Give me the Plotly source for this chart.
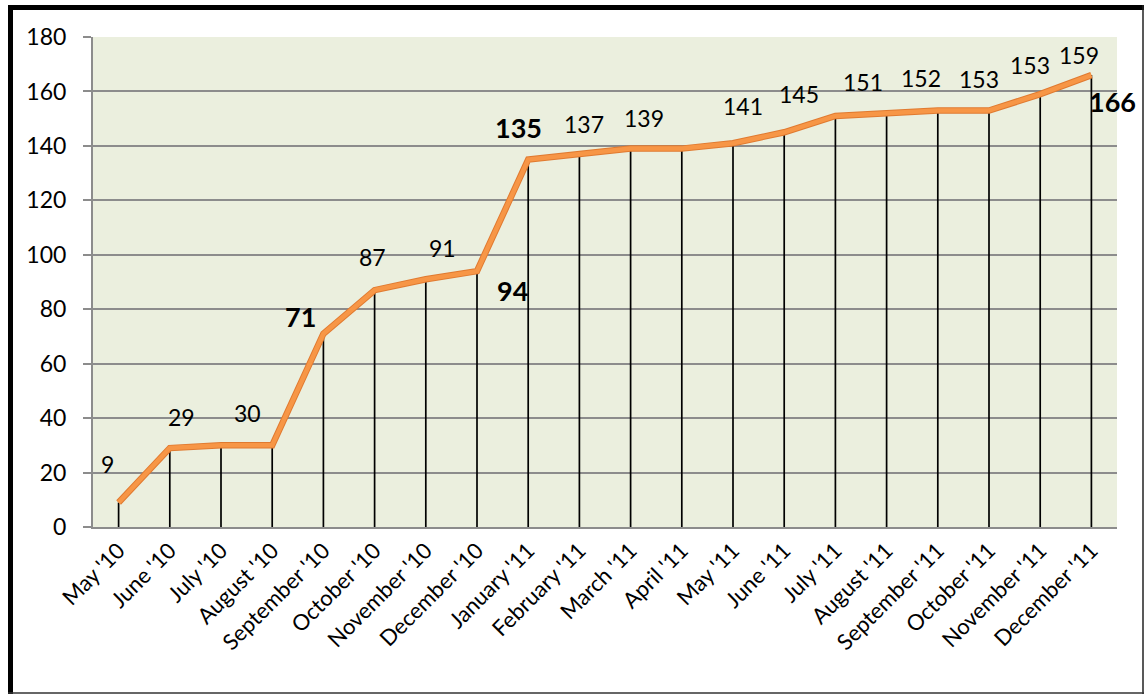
import plotly.graph_objects as go

months = ["May '10", "June '10", "July '10", "August '10", "September '10", "October '10",
          "November '10", "December '10", "January '11", "February '11", "March '11",
          "April '11", "May '11", "June '11", "July '11", "August '11", "September '11",
          "October '11", "November '11", "December '11"]
values = [9, 29, 30, 30, 71, 87, 91, 94, 135, 137, 139, 139, 141, 145, 151, 152, 153, 153, 159, 166]
labels = ["9", "29", "30", None, "71", "87", "91", "94", "135", "137", "139", None,
          "141", "145", "151", "152", "153", "153", "159", "166"]
bold = [False, False, False, False, True, False, False, True, True, False, False, False,
        False, False, False, False, False, False, False, True]
y_ticks = [0, 20, 40, 60, 80, 100, 120, 140, 160, 180]

# label offsets (pixels) relative to each point
dx = [-11, 12, 26, 0, -23, -2, 17, 35, -10, 5, 13, 0, 10, 15, 28, 34, 41, 41, 39, 21]
dy = [39, 31, 32, 0, 17, 33, 31, -19, 32, 30, 31, 0, 37, 38, 34, 35, 32, 46, 39, -26]

FONT = "Lato"

fig = go.Figure()
# drop lines
fig.add_trace(go.Scatter(
    x=months, y=values, mode="markers", marker=dict(size=0.1, color="rgba(0,0,0,0)"),
    error_y=dict(type="data", symmetric=False, array=[0] * len(values), arrayminus=values,
                 color="black", thickness=1.7, width=0),
    hoverinfo="skip", showlegend=False))
# line outline
fig.add_trace(go.Scatter(x=months, y=values, mode="lines",
                         line=dict(color="#E07A30", width=6.5), showlegend=False, hoverinfo="skip"))
fig.add_trace(go.Scatter(x=months, y=values, mode="lines",
                         line=dict(color="#F79646", width=4.5), showlegend=False))

annotations = []
for m, v, t, b, sx, sy in zip(months, values, labels, bold, dx, dy):
    if t is None:
        continue
    annotations.append(dict(
        x=m, y=v, xref="x", yref="y", text=f"<b>{t}</b>" if b else t, showarrow=False,
        xshift=sx, yshift=sy,
        font=dict(family=FONT, size=27 if b else 23, color="black")))

L, R, T, B = 93, 28, 37, 168
W, H = 1145, 695
pw, ph = W - L - R, H - T - B


def px(x):
    return (x - L) / pw


def py(y):
    return (H - B - y) / ph


shapes = [
    dict(type="rect", xref="paper", yref="paper", x0=px(8), x1=px(13), y0=py(694), y1=py(5),
         fillcolor="black", line=dict(width=0), layer="above"),
    dict(type="rect", xref="paper", yref="paper", x0=px(8), x1=px(1144), y0=py(10), y1=py(5),
         fillcolor="black", line=dict(width=0), layer="above"),
    dict(type="line", xref="paper", yref="paper", x0=px(1143), x1=px(1143), y0=py(694), y1=py(5),
         line=dict(color="#222222", width=1.5), layer="above"),
    dict(type="line", xref="paper", yref="paper", x0=px(8), x1=px(1144), y0=py(693), y1=py(693),
         line=dict(color="#333333", width=1.5), layer="above"),
]

fig.update_layout(
    width=W, height=H,
    margin=dict(l=L, r=R, t=T, b=B, autoexpand=False),
    paper_bgcolor="white",
    plot_bgcolor="#EBEFDE",
    font=dict(family=FONT, size=22, color="black"),
    annotations=annotations,
    shapes=shapes,
    xaxis=dict(
        type="category", range=[-0.5, len(months) - 0.5], tickangle=-45,
        tickfont=dict(family=FONT, size=22), showgrid=False, zeroline=False,
        showline=True, linecolor="#8C8C8C", linewidth=2, ticks="", ticklen=0,
        automargin=False,
    ),
    yaxis=dict(
        range=[0, 180], tickvals=y_ticks, tickfont=dict(family=FONT, size=23),
        showgrid=True, gridcolor="#8C8C8C", gridwidth=1.5, zeroline=False,
        showline=True, linecolor="#8C8C8C", linewidth=2, automargin=False,
        ticks="outside", ticklen=8, tickcolor="#8C8C8C", tickwidth=1.5,
        ticklabelstandoff=12,
    ),
)

fig.write_html("out.html", config={"displayModeBar": False},
               post_script="document.body.style.margin='0';document.body.style.overflow='hidden';")
